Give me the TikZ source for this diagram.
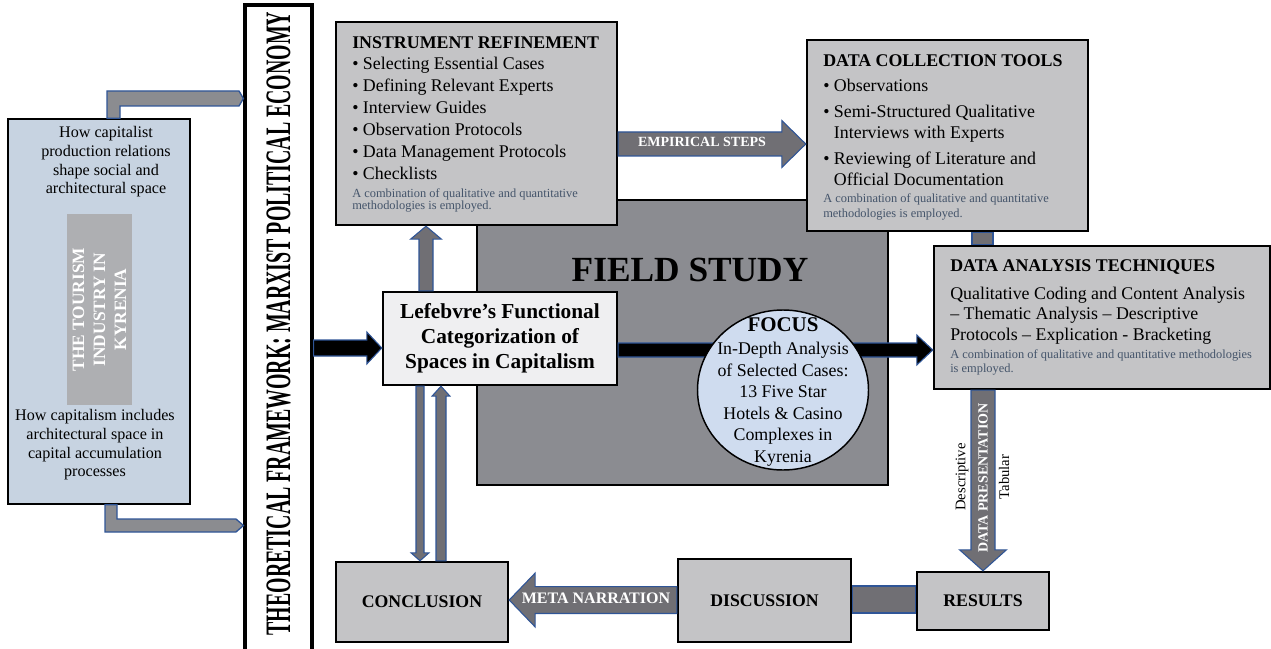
\documentclass[tikz,border=0pt]{standalone}
\usepackage{fontspec}
\setmainfont{Liberation Serif}
\usetikzlibrary{calc,shapes.geometric}
\definecolor{ctxblue}{RGB}{199,211,225}
\definecolor{tourgray}{RGB}{174,175,178}
\definecolor{boxgray}{RGB}{196,196,198}
\definecolor{lefwhite}{RGB}{239,239,241}
\definecolor{focusblue}{RGB}{207,220,239}
\definecolor{fieldgray}{RGB}{139,140,145}
\definecolor{arrowgray}{RGB}{112,111,116}
\definecolor{elbowgray}{RGB}{139,140,144}
\definecolor{arrowblue}{RGB}{47,85,151}
\definecolor{notegray}{RGB}{68,84,106}
\newcommand{\notefont}{\fontsize{9.3}{10.5}\selectfont\color{notegray}}
\newcommand{\bul}{\textbullet\ }
% [style]{start}{end}{shaft half}{head half}{head length}
\newcommand{\blockarrow}[6][] {
    \coordinate (ba-s) at #2;
    \coordinate (ba-e) at #3;
    \coordinate (ba-h) at ($(ba-e)!#6!(ba-s)$);
    \draw[#1] ($(ba-s)!#4!90:(ba-e)$) -- ($(ba-h)!#4!-90:(ba-s)$)
        -- ($(ba-h)!#5!-90:(ba-s)$) -- (ba-e) -- ($(ba-h)!#5!90:(ba-s)$)
        -- ($(ba-h)!#4!90:(ba-s)$) -- ($(ba-s)!#4!-90:(ba-e)$) -- cycle;
}
\tikzset{
    sz/.style 2 args={minimum width=#1*0.75pt, minimum height=#2*0.75pt},
    stage/.style={draw=black, line width=1.8pt, fill=boxgray, inner sep=0pt,
        font=\fontsize{13.3}{16}\selectfont\bfseries},
    blocktext/.style={anchor=north west, align=left, inner sep=0pt},
    grayarrow/.style={fill=arrowgray, draw=arrowblue, line width=0.8pt},
    blackarrow/.style={fill=black, draw=arrowblue, line width=0.8pt},
    elbow/.style={fill=elbowgray, draw=arrowblue, line width=1pt},
    arrowlabel/.style={text=white, inner sep=0pt, font=\fontsize{10.5}{12}\selectfont\bfseries}
}
\begin{document}
\begin{tikzpicture}[x=0.75pt,y=-0.75pt]
    \useasboundingbox (0,0) rectangle (1271,649);
    \clip (0,0) rectangle (1271,649);
    % theory side
    \node[draw=black, line width=1.1pt, fill=ctxblue, sz={182}{385}] (ctx) at (99,311.5) {};
    \node[fill=tourgray, sz={65}{191}] (tour) at (99.5,309.5) {};
    \node[rotate=90, align=center, text=white, inner sep=0pt,
        font=\fontsize{13}{15.75}\selectfont\bfseries] (tourtext) at (tour.center)
        {THE TOURISM\\INDUSTRY IN\\KYRENIA};
    \node[align=center, inner sep=0pt, font=\fontsize{12.1}{14}\selectfont] (ctxtop) at (106,162)
        {How capitalist\\production relations\\shape social and\\architectural space};
    \node[align=center, inner sep=0pt, font=\fontsize{12.1}{14}\selectfont] (ctxbot) at (95,445)
        {How capitalism includes\\architectural space in\\capital accumulation\\processes};
    \node[draw=black, line width=2.4pt, fill=white, sz={67}{660}] (fw) at (278.5,335) {};
    \node[rotate=90, inner sep=0pt, font=\fontsize{14.9}{16}\selectfont\bfseries] (fwtext) at (278.5,323.5)
        {\scalebox{1}[1.8]{THEORETICAL FRAMEWORK: MARXIST POLITICAL ECONOMY}};
    \draw[elbow] (107,0 |- ctx.north) -- (107,91) -- (239,91) -- (fw.west |- 0,98.5)
        -- (239,106) -- (120,106) -- (120,0 |- ctx.north) -- cycle;
    \draw[elbow] (105,0 |- ctx.south) -- (105,532) -- (236,532) -- (fw.west |- 0,525.5)
        -- (236,519) -- (117,519) -- (117,0 |- ctx.south) -- cycle;
    % field study
    \node[draw=black, line width=2.2pt, fill=fieldgray, sz={411}{285}] (fs) at (682.5,342.5) {};
    \node[inner sep=0pt, font=\fontsize{26.5}{30}\selectfont\bfseries] (fstitle) at (690,270) {FIELD STUDY};
    \node[draw=black, line width=1.8pt, fill=lefwhite, sz={234}{93}, align=center, inner sep=0pt,
        font=\fontsize{16}{18.75}\selectfont\bfseries] (lef) at (500,338.5)
        {Lefebvre’s Functional\\Categorization of\\Spaces in Capitalism};
    \node[stage, sz={281}{203}] (ir) at (476.5,123.5) {};
    \node[stage, sz={281}{191}] (dc) at (947.5,135.5) {};
    \node[stage, sz={336}{143}] (da) at (1102,317.5) {};
    \node[stage, sz={132}{58}] (res) at (983,601) {RESULTS};
    \node[stage, sz={173}{83}] (dis) at (764.5,600.5) {DISCUSSION};
    \node[stage, sz={172}{80}] (con) at (422,602) {CONCLUSION};
    \node[blocktext, font=\fontsize{13.4}{16.5}\selectfont] (irtext) at (352,36)
        {\textbf{INSTRUMENT REFINEMENT}\\[-0.75pt]
        \bul Selecting Essential Cases\\
        \bul Defining Relevant Experts\\
        \bul Interview Guides\\
        \bul Observation Protocols\\
        \bul Data Management Protocols\\
        \bul Checklists\\[-3pt]
        {\notefont A combination of qualitative and quantitative}\\[-7pt]
        {\notefont methodologies is employed.}};
    \node[blocktext, font=\fontsize{13.4}{15.75}\selectfont] (dctext) at (823,54)
        {\textbf{DATA COLLECTION TOOLS}\\[3pt]
        \bul Observations\\[3.75pt]
        \bul Semi-Structured Qualitative\\
        \phantom{\bul}Interviews with Experts\\[3.75pt]
        \bul Reviewing of Literature and\\
        \phantom{\bul}Official Documentation\\[-3pt]
        {\notefont A combination of qualitative and quantitative}\\[-4.5pt]
        {\notefont methodologies is employed.}};
    \node[blocktext, font=\fontsize{13.4}{15.4}\selectfont] (datext) at (950,259)
        {\textbf{DATA ANALYSIS TECHNIQUES}\\[5.6pt]
        Qualitative Coding and Content Analysis\\
        \textendash{} Thematic Analysis \textendash{} Descriptive\\
        Protocols \textendash{} Explication - Bracketing\\[-1.9pt]
        {\notefont A combination of qualitative and quantitative methodologies}\\[-4.9pt]
        {\notefont is employed.}};
    % connectors
    \blockarrow[blackarrow]{(fw.east |- 0,348)}{(lef.west |- 0,348)}{6pt}{12pt}{11.25pt}
    \blockarrow[blackarrow]{(lef.east |- 0,350)}{(da.west |- 0,350)}{5.25pt}{11.25pt}{12pt}
    \blockarrow[grayarrow]{(426,0 |- lef.north)}{(426,0 |- ir.south)}{5.25pt}{11.6pt}{9.75pt}
    \blockarrow[grayarrow]{(420,0 |- lef.south)}{(420,0 |- con.north)}{3pt}{6.75pt}{6pt}
    \blockarrow[grayarrow]{(441,0 |- con.north)}{(441,0 |- lef.south)}{3.75pt}{6.75pt}{7.5pt}
    \blockarrow[grayarrow]{(ir.east |- 0,144)}{(dc.west |- 0,144)}{9pt}{17.6pt}{18pt}
    \draw[grayarrow] (972,0 |- dc.south) rectangle (993,0 |- da.north);
    \blockarrow[grayarrow]{(983,0 |- da.south)}{(983,0 |- res.north)}{9pt}{17.6pt}{15.75pt}
    \draw[grayarrow] (dis.east |- 0,586) rectangle (res.west |- 0,613);
    \blockarrow[grayarrow]{(dis.west |- 0,600)}{(con.east |- 0,600)}{10.1pt}{20.25pt}{19.5pt}
    \node[arrowlabel] (emplabel) at (702,142) {EMPIRICAL STEPS};
    \node[arrowlabel, rotate=90] (dplabel) at (983,478) {DATA PRESENTATION};
    \node[rotate=90, inner sep=0pt, font=\fontsize{11}{12}\selectfont] (desc) at (962,477) {Descriptive};
    \node[rotate=90, inner sep=0pt, font=\fontsize{11}{12}\selectfont] (tab) at (1004,477) {Tabular};
    \node[arrowlabel, font=\fontsize{12}{14}\selectfont\bfseries] (metalabel) at (596,598.5) {META NARRATION};
    % focus
    \node[ellipse, draw=black, line width=1.1pt, fill=focusblue, sz={171}{160}, inner sep=0pt] (focus) at (783,390) {};
    \node[align=center, inner sep=0pt, font=\fontsize{13.4}{16.1}\selectfont] (focustext) at (783,392)
        {{\fontsize{15.7}{16}\selectfont\bfseries FOCUS}\\[1pt]
        In-Depth Analysis\\of Selected Cases:\\13 Five Star\\Hotels \& Casino\\Complexes in\\Kyrenia};
\end{tikzpicture}
\end{document}
